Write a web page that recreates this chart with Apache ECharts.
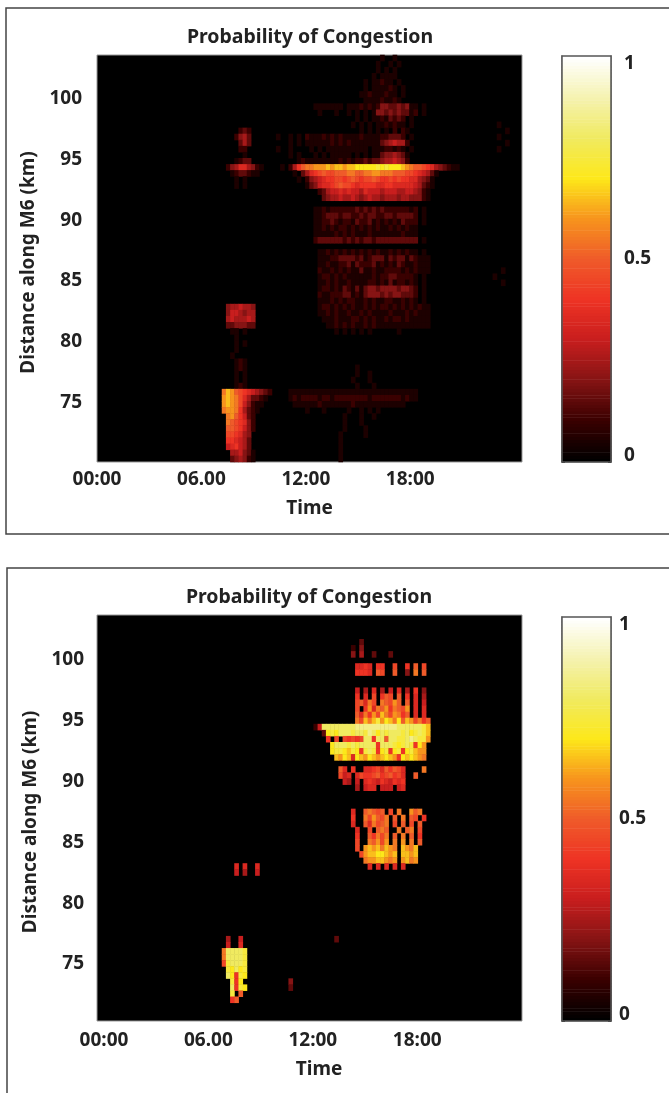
<!DOCTYPE html>
<html>
<head>
<meta charset="utf-8">
<style>html,body{margin:0;padding:0;background:#fff}#c{width:669px;height:1093px}#c canvas{filter:blur(0.7px)}</style>
<script src="https://cdn.jsdelivr.net/npm/echarts@6/dist/echarts.min.js"></script>
</head>
<body>
<div id="c"></div>
<script>
// Cell code: '.'=0, 1..9,a..k = value/20. Rows run top to bottom (103.5 km down to 70 km).
// Each row starts at time column rowStartColumn; missing cells on the right are 0.
const rowStartColumn = 30;
const title = 'Probability of Congestion';
const timeTicks = [0, 6, 12, 18];
const timeTickLabels = ['00:00', '06.00', '12:00', '18:00'];
const distanceTicks = [75, 80, 85, 90, 95, 100];
const colorbarTicks = [0, 0.5, 1];

const topPanelRows = [
".......... .......... .......... ........1. .1........",
".......... .......... .......... .......1.. 1.1.......",
".......... .......... .......... .......1.1 .1........",
".......... .......... .......... ......1.11 11........",
".......... .......... .......... ....1.1121 1.1.......",
".......... .......... .......... ....1.1111 21.1......",
".......... .......... .......... ...1121112 11.1......",
".......... .......... .......... ....111121 121.......",
".......... .......... ..1111111. 1112121244 3343411.1.",
".......... .......... ...1...1.. 1.1.1.1443 4343312.1.",
".......... .......... .......... ..1.1.1121 3232.1....",
".......... .......... .......... .1.1.1.112 1211.1.... .......... ......1...",
"....232... .......... .......... ...1.1.1.1 .2.21..... .......... ........1.",
"...2453... ...1..1.1. 2111212121 1112111122 3332.1.... .......... ......1...",
"....353... ......1.1. 1111112121 2111111134 56552..... .......... ........1.",
"....22.... ...1..1... .1.1.11111 11111.1112 2121.1.... .......... ......1...",
".....1.... ......1.1. ..1.1.1111 1.1.1.1134 45431.....",
"...1233... ........12 1111111121 2122323345 56542.....",
".245775421 ....1.258a bbcccdcddc ddeeeeefef eeedcbaa98 7543211...",
"..1233211. .......1.3 5789a99aaa bbaabbccbb baaa998765 31........",
"...1.1.... ........1. 2456788998 9a9899a988 9898877543 1.........",
"...1.1.... .......... 13467789a9 9878888778 8777776532 1.........",
".......... .......... ...2356676 7665766656 6655665421 ..........",
".......... .......... ....345565 5654565545 5545544421 ..........",
".......... .......... .......... .......... .......... ..........",
".......... .......... ..11212222 2232323232 2222212.1. ..........",
".......... .......... ..11233323 3223233223 3233332.1. ..........",
".......... .......... ..11223212 2132231212 1213222.1. ..........",
".......... .......... ..11212122 1212121211 2121211... ..........",
".......... .......... ..11111212 1211121111 1112111... ..........",
".......... .......... ..23333332 3232332333 3333333.1. ..........",
".......... .......... .......... .......... .......... ..........",
".......... .......... ...1121212 1212121211 2121211.1. ..........",
".......... .......... ...1112233 3323123331 3233132111 ..........",
".......... .......... ...1121122 3132223121 2132112111 ..........",
".......... .......... ...2112121 2113112112 2221212111 .......... .......1..",
".......... .......... ...1221212 1111112122 3322221.1. .......... .....1....",
".......... .......... ...1121211 2111122121 3122121.1. .......... .......1..",
".......... .......... ...1221213 2131344344 4434432.1.",
".......... .......... ...2112223 3121344434 3443332.1.",
".......... .......... ...1112121 2211212112 2112121.1.",
".4556554.. .......... ...1221212 1211212122 1212121211",
".4665455.. .......... ...1121211 2112121111 2111212111",
".5655565.. .......... ....111211 1221212112 1221211111",
".3344433.. .......... .....11212 1211212111 1111111111",
"..11.1.... .......... .......1.1 .1.1.1.... ..1.......",
"...1......",
"...1.1....",
"...1......",
"..1.......",
"...121....",
"...121.... .......... .......... ..1.......",
"...1.1.... .......... .......... ..1..1....",
"...1.1.... .......... .......... .1...1....",
"...121.... .......... .......... ..1...1...",
"bdca987654 32....1111 1111111111 1111111111 1111111...",
"cdcb975332 1.....1212 2221221222 2222212222 2221211...",
"cdcb964211 .......111 1112111111 1211111111 1111......",
"bccb85321. .......... 1...1..... 1..1.1.1..",
".bca8632.. .......... .........1 ...1..1...",
".ba98742.. .......... .........1 ...1......",
".aa98642.. .......... .........1 ....1.....",
".998754... .......... ........1. ....1.....",
".887653... .......... ........1.",
".678653... .......... ........1.",
"..556431.. .......... ........1.",
"..345421.. .......... ........1."
];

const bottomPanelRows = [
"", "", "", "",
".......... .......... .......... ...3......",
".......... .......... .......... .2.4......",
".......... .......... .......... .4.5..3... 3.........",
"",
".......... .......... .......... ..7787.88. .9..8.a.9.",
".......... .......... .......... ..8887.a9. .a..4.b.a.",
"", "",
".......... .......... .......... ..6.5.7.5. 6.7.5.8.4.",
".......... .......... .......... ..8.7.9.8a 9.a.8.7.5.",
".......... .......... .......... ..9a7b9.ba 9ca.a.7.6.",
".......... .......... .......... ..9.8c7bac 8ba9c.7.7.",
".......... .......... .......... ..a7b8c9db 9cb8a.7.7.",
".......... .......... .......... ..b9dbdfce dbeadc9b8a",
".......... .......... ..26gggggg gghhhhhhhh hhggggggfd",
".......... .......... ....3efegg gfggfhgegf gggfgefgfd",
".......... .......... .....8.9.9 8989gg8gga ggffghgffc",
".......... .......... ......eggg fgfgggg8gg gfefgf8ec.",
".......... .......... ......effe dfe8fgf8ef 8ef8efdcc.",
".......... .......... .......dce d7edcedcde dc8ededcb.",
"",
".......... .......... ........a7 .8..77897a 8a97....b.",
".......... .......... ........96 7.79889a89 a897..a...",
".......... .......... .........6 5.6.787687 6878......",
".......... .......... .......... ..5.677.66 6.67......",
"", "", "",
".......... .......... .......... .7..aba9a. 9.b..cab..",
".......... .......... .......... .8..b9ca9b .a.b.a9.8.",
".......... .......... .......... .7..a7b9ab .9.a.9.a..",
".......... .......... .......... ..7..9.aba ..b.ab.9..",
".......... .......... .......... ..8..a8b9b .a.b.a.8..",
".......... .......... .......... ..9..bac9c .b.c.b.a..",
".......... .......... .......... ..9.cdcdbd cb.dcbd...",
".......... .......... .......... ...9cddeed cd.ddcd...",
".......... .......... .......... ....bccddc bc.cdbc...",
"...7.7..7. .......... .......... .....7.7.7 .7.7......",
"...6.5..6.",
"", "", "", "", "", "", "", "", "", "",
".5..6..... .......... .......3..",
".6..7.....",
"bggggf....",
"bggggf....",
"9fgggf....",
".fegef....",
".ge8fe....",
"..f8e..... ......4...",
"..g8fe.... ......3...",
"..f.a.....",
"..8a......",
"", "", ""
];

const COLUMNS = 102;
const ink = '#222222';
const fontFamily = '"Noto Sans", "Open Sans", sans-serif';
const ramp = ['#000000','#3a0000','#861414','#c81e1e','#ee3324','#ef5b2a','#f7941d','#fde81a','#f0ea60','#f5f2b0','#ffffff'];

function decode(ch){ return ch === '.' ? 0 : parseInt(ch, 36) / 20; }
function cells(rows){
  const out = [];
  rows.forEach((raw, r) => {
    const s = raw.replace(/\s/g, '');
    for (let i = 0; i < s.length; i++) {
      const c = rowStartColumn + i;
      if (c < COLUMNS && s[i] !== '.') out.push([c, r, decode(s[i])]);
    }
  });
  return out;
}
const timeCategories = Array.from({length: COLUMNS}, (_, c) => String(c));
const distanceCategories = Array.from({length: topPanelRows.length}, (_, r) => String(r));
const colorbarLevels = Array.from({length: 128}, (_, i) => i / 127);

const axisText = {color: ink, fontSize: 19, fontWeight: 'bold', fontFamily};
const hiddenCat = (g, data, extra) => Object.assign({gridIndex: g, type: 'category', show: false, data}, extra || {});

const cfgs = [
  {grid: [97, 55, 425, 407], bar: [562, 56, 49, 406], tRange: [0, 24.42], kmRange: [70.12, 103.57], tMargin: 8, tNameGap: 37, namePad: [0, 0, 0, 0], yMargin: 15, yNameGap: 54, barMargin: 13},
  {grid: [97, 615, 425, 406], bar: [562, 617, 49, 404], tRange: [-0.4, 24.02], kmRange: [70.31, 103.7], tMargin: 10, tNameGap: 39, namePad: [0, 0, 0, 19], yMargin: 13, yNameGap: 52, barMargin: 8}
];

const grids = [], xAxes = [], yAxes = [], series = [];
const heat = (xi, yi, data) => ({type: 'heatmap', xAxisIndex: xi, yAxisIndex: yi, data, progressive: 0, animation: false, silent: true, emphasis: {disabled: true}});
const barCells = colorbarLevels.map((v, i) => [0, i, v]);
const panelRows = [topPanelRows, bottomPanelRows];

cfgs.forEach((cfg, i) => {
  const g = 2 * i, gb = 2 * i + 1, g0 = cfg.grid, b = cfg.bar;
  const xBase = xAxes.length, yBase = yAxes.length;
  grids.push({left: g0[0], top: g0[1], width: g0[2], height: g0[3], backgroundColor: '#000', show: true, borderColor: '#999', borderWidth: 1});
  grids.push({left: b[0], top: b[1], width: b[2], height: b[3], show: false});
  xAxes.push(
    hiddenCat(g, timeCategories),
    {gridIndex: g, type: 'value', position: 'bottom', min: cfg.tRange[0], max: cfg.tRange[1],
     axisLine: {show: false, onZero: false}, axisTick: {show: false}, splitLine: {show: false},
     axisLabel: Object.assign({}, axisText, {customValues: timeTicks, formatter: (v) => timeTickLabels[timeTicks.indexOf(v)], margin: cfg.tMargin, hideOverlap: false, showMinLabel: true, showMaxLabel: true}),
     name: 'Time', nameLocation: 'middle', nameGap: cfg.tNameGap, nameTextStyle: Object.assign({}, axisText, {padding: cfg.namePad})},
    hiddenCat(gb, ['bar'])
  );
  yAxes.push(
    hiddenCat(g, distanceCategories, {inverse: true}),
    {gridIndex: g, type: 'value', position: 'left', min: cfg.kmRange[0], max: cfg.kmRange[1],
     axisLine: {show: false, onZero: false}, axisTick: {show: false}, splitLine: {show: false},
     axisLabel: Object.assign({}, axisText, {customValues: distanceTicks, formatter: (v) => String(v), margin: cfg.yMargin, hideOverlap: false}),
     name: 'Distance along M6 (km)', nameLocation: 'middle', nameGap: cfg.yNameGap, nameTextStyle: Object.assign({}, axisText, {padding: [0, 8, 0, 0]})},
    hiddenCat(gb, colorbarLevels.map(String)),
    {gridIndex: gb, type: 'value', position: 'right', min: 0, max: 1, interval: 0.5,
     axisLine: {show: true, onZero: false, lineStyle: {color: '#555', width: 1.5}},
     axisTick: {show: true, inside: true, length: 3, lineStyle: {color: '#333'}}, splitLine: {show: false},
     axisLabel: Object.assign({}, axisText, {margin: cfg.barMargin, padding: [-2, 0, -3, 0], formatter: (v) => colorbarTicks.includes(v) ? String(v) : '', verticalAlignMinLabel: 'bottom', verticalAlignMaxLabel: 'top'})},
    {gridIndex: gb, type: 'value', position: 'left', min: 0, max: 1, interval: 0.5,
     axisLine: {show: true, onZero: false, lineStyle: {color: '#555', width: 1.5}},
     axisTick: {show: true, inside: true, length: 3, lineStyle: {color: '#333'}}, axisLabel: {show: false}, splitLine: {show: false}}
  );
  series.push(heat(xBase, yBase, cells(panelRows[i])));
  series.push(heat(xBase + 2, yBase + 2, barCells));
});

const option = {
  animation: false,
  backgroundColor: '#fff',
  title: [
    {text: title, left: 305, top: 22, textAlign: 'center', textStyle: {color: ink, fontSize: 19.5, fontWeight: 'bold', fontFamily}},
    {text: title, left: 304, top: 582, textAlign: 'center', textStyle: {color: ink, fontSize: 19.5, fontWeight: 'bold', fontFamily}}
  ],
  grid: grids,
  xAxis: xAxes,
  yAxis: yAxes,
  visualMap: {show: false, min: 0, max: 1, dimension: 2, seriesIndex: [0, 1, 2, 3], inRange: {color: ramp}},
  series,
  graphic: [
    {type: 'polyline', silent: true, z: 50, shape: {points: [[669, 8], [6, 8], [6, 534], [669, 534]]}, style: {fill: null, stroke: '#444', lineWidth: 1.5}},
    {type: 'polyline', silent: true, z: 50, shape: {points: [[669, 568], [7, 568], [7, 1093]]}, style: {fill: null, stroke: '#444', lineWidth: 1.5}},
    {type: 'rect', silent: true, z: 50, shape: {x: 562, y: 56, width: 49, height: 406}, style: {fill: null, stroke: '#555', lineWidth: 1.5}},
    {type: 'rect', silent: true, z: 50, shape: {x: 562, y: 617, width: 49, height: 404}, style: {fill: null, stroke: '#555', lineWidth: 1.5}}
  ]
};
const chart = echarts.init(document.getElementById('c'), null, {renderer: 'canvas', width: 669, height: 1093});
chart.setOption(option);
</script>
</body>
</html>
